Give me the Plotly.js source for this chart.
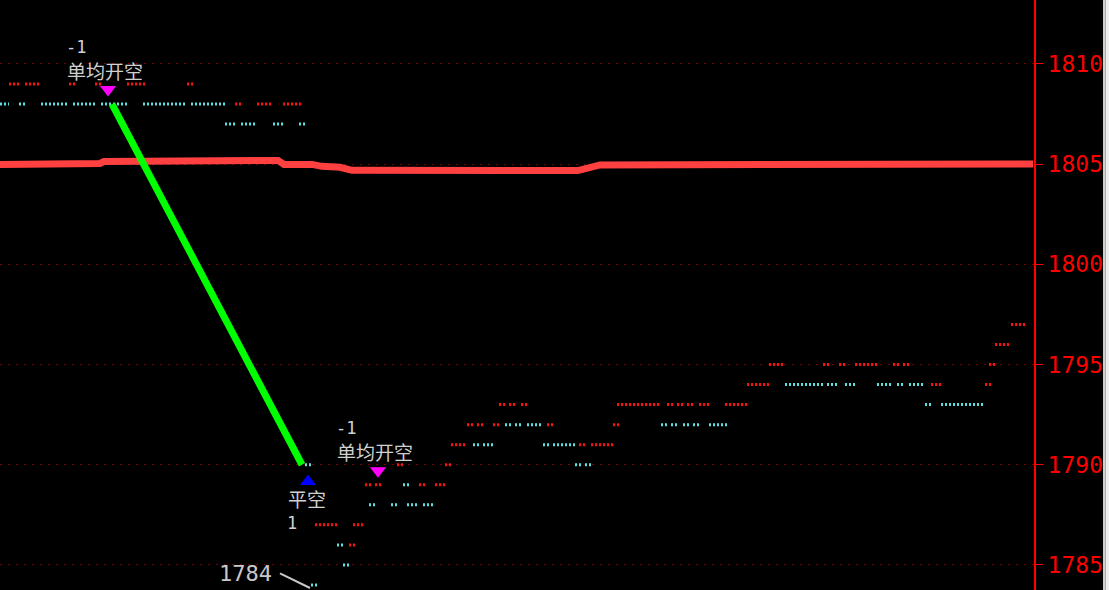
<!DOCTYPE html>
<html>
<head>
<meta charset="utf-8">
<script src="https://cdn.plot.ly/plotly-3.0.1.min.js"></script>
<style>
  html, body { margin: 0; padding: 0; background: #000; }
  #chart { width: 1109px; height: 590px; }
</style>
</head>
<body>
<div id="chart"></div>
<script>
// ---- price axis ----
const priceTicks = [1785, 1790, 1795, 1800, 1805, 1810];

// ---- tick runs (x = tick position, price level) : up ticks (red) ----
const upStart = [9, 25, 69, 95, 127, 187, 235, 257, 283, 315, 353, 349, 365, 375, 419, 435, 397, 445, 451, 467, 477, 493, 499, 509, 521, 547, 579, 591, 613, 617, 667, 677, 687, 699, 725, 747, 769, 823, 839, 855, 893, 903, 931, 985, 989, 995, 1011];
const upEnd   = [21, 41, 75, 101, 145, 193, 241, 273, 301, 339, 365, 355, 371, 381, 425, 445, 403, 451, 467, 473, 483, 499, 505, 515, 527, 553, 585, 613, 619, 661, 673, 683, 693, 709, 747, 769, 785, 829, 845, 877, 899, 909, 941, 991, 995, 1011, 1027];
const upPrice = [1809, 1809, 1809, 1809, 1809, 1809, 1808, 1808, 1808, 1787, 1787, 1786, 1789, 1789, 1789, 1789, 1790, 1790, 1791, 1792, 1792, 1792, 1793, 1793, 1793, 1792, 1791, 1791, 1792, 1793, 1793, 1793, 1793, 1793, 1793, 1794, 1795, 1795, 1795, 1795, 1795, 1795, 1794, 1794, 1795, 1796, 1797];

// ---- down ticks (cyan) ----
const downStart = [0, 19, 41, 73, 101, 143, 191, 225, 241, 273, 299, 305, 311, 337, 343, 369, 391, 403, 407, 423, 473, 483, 505, 515, 527, 543, 553, 575, 585, 661, 671, 683, 693, 709, 785, 827, 845, 877, 897, 909, 925, 941];
const downEnd   = [9, 25, 69, 95, 127, 187, 225, 235, 257, 285, 305, 311, 317, 343, 349, 375, 397, 409, 419, 435, 479, 495, 511, 521, 543, 549, 575, 581, 591, 667, 677, 689, 699, 727, 823, 839, 855, 893, 903, 925, 931, 985];
const downPrice = [1808, 1808, 1808, 1808, 1808, 1808, 1808, 1807, 1807, 1807, 1807, 1790, 1784, 1786, 1785, 1788, 1788, 1789, 1788, 1788, 1791, 1791, 1792, 1792, 1792, 1791, 1791, 1790, 1790, 1792, 1792, 1792, 1792, 1792, 1794, 1794, 1794, 1794, 1794, 1794, 1793, 1793];

// ---- moving average ----
const maX     = [0, 30, 32, 100, 104, 208, 212, 278, 284, 312, 322, 340, 352, 578, 600, 638, 646, 1033];
const maValue = [1804.985, 1804.985, 1805.035, 1805.035, 1805.135, 1805.135, 1805.185, 1805.185, 1804.985, 1804.985, 1804.89, 1804.84, 1804.69, 1804.68, 1804.96, 1804.96, 1805.01, 1805.01];

// ---- trade (open short -> close short) ----
const tradeX = [112, 302];
const tradePrice = [1808, 1790];

// ---- signals ----
const sellX = [108, 378];
const sellPrice = [1808.72, 1789.7];
const sellQty = ['-1', '-1'];
const sellName = ['单均开空', '单均开空'];
const buyX = [308];
const buyPrice = [1789.17];
const buyQty = ['1'];
const buyName = ['平空'];

// ---- lowest price label ----
const lowX = [314];
const lowPrice = [1784];
const lowText = ['1784'];

function runs(start, end, price) {
  const x = [], y = [];
  for (let i = 0; i < start.length; i++) {
    x.push(start[i], end[i], null);
    y.push(price[i], price[i], null);
  }
  return {x, y};
}

const up = runs(upStart, upEnd, upPrice);
const down = runs(downStart, downEnd, downPrice);

const traces = [
  {x: maX, y: maValue, mode: 'lines', line: {color: '#ff4040', width: 7}, hoverinfo: 'skip'},
  {x: up.x, y: up.y, mode: 'lines', line: {color: '#ff1010', width: 3, dash: '2px,2px'}, hoverinfo: 'skip'},
  {x: down.x, y: down.y, mode: 'lines', line: {color: '#5ae0e0', width: 3, dash: '2px,2px'}, hoverinfo: 'skip'},
  {x: tradeX, y: tradePrice, mode: 'lines', line: {color: '#00ff00', width: 7}, hoverinfo: 'skip'},
  {x: sellX, y: sellPrice, mode: 'markers', marker: {symbol: 'triangle-down', size: 14, color: '#ff00ff'}, hoverinfo: 'skip'},
  {x: buyX, y: buyPrice, mode: 'markers', marker: {symbol: 'triangle-up', size: 14, color: '#0000ff'}, hoverinfo: 'skip'}
];

const cjk = {family: 'Noto Sans CJK SC, sans-serif', size: 19, color: '#d0d0d0'};
const mono = {family: 'DejaVu Sans Mono, monospace', size: 17, color: '#d0d0d0'};

const annotations = [];
for (let i = 0; i < sellX.length; i++) {
  annotations.push({x: sellX[i], y: sellPrice[i], xref: 'x', yref: 'y', text: sellQty[i], showarrow: false,
    xanchor: 'left', yanchor: 'middle', xshift: -44, yshift: 43, font: mono});
  annotations.push({x: sellX[i], y: sellPrice[i], xref: 'x', yref: 'y', text: sellName[i], showarrow: false,
    xanchor: 'left', yanchor: 'middle', xshift: -43, yshift: 19, font: cjk});
}
for (let i = 0; i < buyX.length; i++) {
  annotations.push({x: buyX[i], y: buyPrice[i], xref: 'x', yref: 'y', text: buyName[i], showarrow: false,
    xanchor: 'left', yanchor: 'middle', xshift: -22, yshift: -17, font: cjk});
  annotations.push({x: buyX[i], y: buyPrice[i], xref: 'x', yref: 'y', text: buyQty[i], showarrow: false,
    xanchor: 'left', yanchor: 'middle', xshift: -23, yshift: -42, font: mono});
}
for (let i = 0; i < lowX.length; i++) {
  annotations.push({x: lowX[i], y: lowPrice[i], xref: 'x', yref: 'y', text: lowText[i], showarrow: false,
    xanchor: 'left', yanchor: 'middle', xshift: -97, yshift: 11,
    font: {family: 'DejaVu Sans Mono, monospace', size: 22, color: '#c8c8c8'}});
  annotations.push({x: lowX[i], y: lowPrice[i], xref: 'x', yref: 'y', text: ' ', showarrow: true,
    arrowhead: 0, arrowwidth: 2, arrowcolor: '#c8c8c8', axref: 'pixel', ayref: 'pixel', ax: -33, ay: -16,
    xshift: -4, yshift: -3, standoff: 0, startstandoff: 0});
}

const layout = {
  width: 1109, height: 590,
  margin: {l: 0, r: 75, t: 0, b: 0, pad: 0},
  paper_bgcolor: '#000000',
  plot_bgcolor: '#000000',
  showlegend: false,
  xaxis: {range: [0, 1034], visible: false, fixedrange: true},
  yaxis: {
    side: 'right',
    range: [1783.75, 1813.19],
    tickvals: priceTicks,
    ticktext: priceTicks.map(String),
    showgrid: true, gridcolor: '#800000', gridwidth: 1, griddash: '2px,6px',
    zeroline: false,
    showline: true, linecolor: '#ff0000', linewidth: 2,
    ticks: 'outside', ticklen: 7, tickwidth: 1, tickcolor: '#ff0000',
    tickfont: {family: 'DejaVu Sans Mono, monospace', size: 23, color: '#ff0000'},
    fixedrange: true
  },
  annotations: annotations,
  shapes: [
    {type: 'rect', xref: 'paper', yref: 'paper', x0: 1103/1034, x1: 1105.5/1034, y0: 0, y1: 1,
      fillcolor: '#cfcfcf', line: {width: 0}, layer: 'above'},
    {type: 'rect', xref: 'paper', yref: 'paper', x0: 1105.5/1034, x1: 1109/1034, y0: 0, y1: 1,
      fillcolor: '#eeeeee', line: {width: 0}, layer: 'above'}
  ]
};

Plotly.newPlot('chart', traces, layout, {displayModeBar: false, staticPlot: true});
</script>
</body>
</html>
